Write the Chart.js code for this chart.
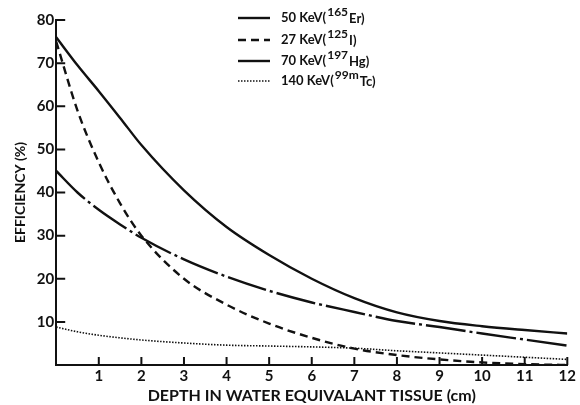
<!DOCTYPE html>
<html>
<head>
<meta charset="utf-8">
<script src="https://cdn.jsdelivr.net/npm/chart.js@4"></script>
<style>
  html, body { margin: 0; padding: 0; background: #fff; }
  #wrap { width: 580px; height: 405px; position: relative; }
</style>
</head>
<body>
<div id="wrap"><canvas id="plot"></canvas></div>
<script>

// depth in water equivalent tissue (cm)
const depth = [0, 0.5, 1, 1.5, 2, 3, 4, 5, 6, 7, 8, 9, 10, 11, 12];

// efficiency (%)
const er165 = [76, 69.5, 63.5, 57.3, 51, 40.5, 32, 25.5, 20, 15.5, 12.2, 10.2, 9.0, 8.1, 7.3];
const i125  = [75, 59, 47, 37.5, 30, 20, 14, 9.6, 6.3, 3.8, 2.3, 1.3, 0.6, 0.2, 0];
const hg197 = [45, 40, 36, 32.6, 29.5, 24.5, 20.5, 17.2, 14.5, 12.3, 10.2, 8.8, 7.3, 5.9, 4.5];
const tc99m = [8.8, 7.7, 6.9, 6.3, 5.8, 5.1, 4.6, 4.4, 4.2, 3.9, 3.3, 2.8, 2.3, 1.8, 1.3];

// legend text: [before, superscript, after]
const legendParts = [
	['50 KeV(', '165', 'Er)'],
	['27 KeV(', '125', 'I)'],
	['70 KeV(', '197', 'Hg)'],
	['140 KeV(', '99m', 'Tc)']
];

const xTicks = [1, 2, 3, 4, 5, 6, 7, 8, 9, 10, 11, 12];

const FONT = 'Lato, "DejaVu Sans", sans-serif';

function pts( ys ) {
	return depth.map( ( d, i ) => ({ x: d, y: ys[i] }) );
}

function line( label, ys, width, dash ) {
	return {
		label: label,
		data: pts( ys ),
		borderColor: '#111',
		borderWidth: width,
		borderDash: dash,
		pointRadius: 0,
		fill: false,
		cubicInterpolationMode: 'monotone'
	};
}

/* inward tick marks + legend with superscripts */
const extras = {
	id: 'extras',
	afterDraw( chart ) {
		const ctx = chart.ctx;
		const xs = chart.scales.x, ys = chart.scales.y;
		ctx.save();
		ctx.strokeStyle = '#111';
		ctx.lineWidth = 2;
		ctx.setLineDash([]);
		ctx.beginPath();
		for ( const t of xTicks ) {
			const px = xs.getPixelForValue( t );
			ctx.moveTo( px, ys.bottom );
			ctx.lineTo( px, ys.bottom - 8 );
		}
		for ( let v = 10; v <= 80; v += 10 ) {
			const py = ys.getPixelForValue( v );
			ctx.moveTo( xs.left, py );
			ctx.lineTo( xs.left + 9, py );
		}
		ctx.stroke();

		// legend
		const lx = 238, tx = 281;
		const rows = [18, 40, 61, 81];
		chart.data.datasets.forEach( ( ds, i ) => {
			const y = rows[i];
			ctx.lineWidth = ds.borderWidth;
			ctx.setLineDash( ds.borderDash || [] );
			ctx.beginPath();
			ctx.moveTo( lx, y );
			ctx.lineTo( lx + 32, y );
			ctx.stroke();
			ctx.setLineDash([]);

			const p = legendParts[i];
			ctx.fillStyle = '#111';
			ctx.textBaseline = 'middle';
			ctx.font = 'bold 13px ' + FONT;
			let x = tx;
			ctx.fillText( p[0], x, y );
			x += ctx.measureText( p[0] ).width + 1;
			ctx.font = 'bold 12px ' + FONT;
			ctx.fillText( p[1], x, y - 6 );
			x += ctx.measureText( p[1] ).width + 1;
			ctx.font = 'bold 13px ' + FONT;
			ctx.fillText( p[2], x, y + 1 );
		});
		ctx.restore();
	}
};

const plotCTX = document.getElementById('plot');

const plotConfig = {
	type: 'line',
	data: {
		datasets: [
			line( '50 KeV', er165, 2.4, [] ),
			line( '27 KeV', i125, 2.4, [8, 5] ),
			line( '70 KeV', hg197, 2.4, [40, 4, 3, 4] ),
			line( '140 KeV', tc99m, 1.6, [1.5, 1.5] )
		]
	},
	options: {
		responsive: true,
		maintainAspectRatio: false,
		animation: false,
		layout: {
			padding: { top: 20, right: 0, left: 12, bottom: 0 }
		},
		plugins: {
			legend: { display: false },
			tooltip: { enabled: false }
		},
		scales: {
			x: {
				type: 'linear',
				min: 0,
				max: 12,
				grid: { display: false, drawTicks: false },
				border: { display: true, color: '#111', width: 2 },
				ticks: {
					stepSize: 1,
					color: '#111',
					padding: 4,
					font: { family: FONT, size: 15, weight: 'bold', lineHeight: 1 },
					callback: ( v ) => v === 0 ? '' : v
				},
				title: {
					display: true,
					text: 'DEPTH IN WATER EQUIVALANT TISSUE (cm)',
					color: '#111',
					padding: { top: 0, bottom: 1 },
					font: { family: FONT, size: 16, weight: 'bold', lineHeight: 1 }
				}
			},
			y: {
				min: 0,
				max: 80,
				grid: { display: false, drawTicks: false },
				border: { display: true, color: '#111', width: 2 },
				ticks: {
					stepSize: 10,
					color: '#111',
					padding: 2,
					font: { family: FONT, size: 15, weight: 'bold' },
					callback: ( v ) => v === 0 ? '' : v
				},
				title: {
					display: true,
					text: 'EFFICIENCY (%)',
					color: '#111',
					padding: { top: 0, bottom: 6 },
					font: { family: FONT, size: 14, weight: 'bold' }
				}
			}
		}
	},
	plugins: [ extras ]
};

const plotChart = new Chart( plotCTX, plotConfig );
</script>
</body>
</html>
